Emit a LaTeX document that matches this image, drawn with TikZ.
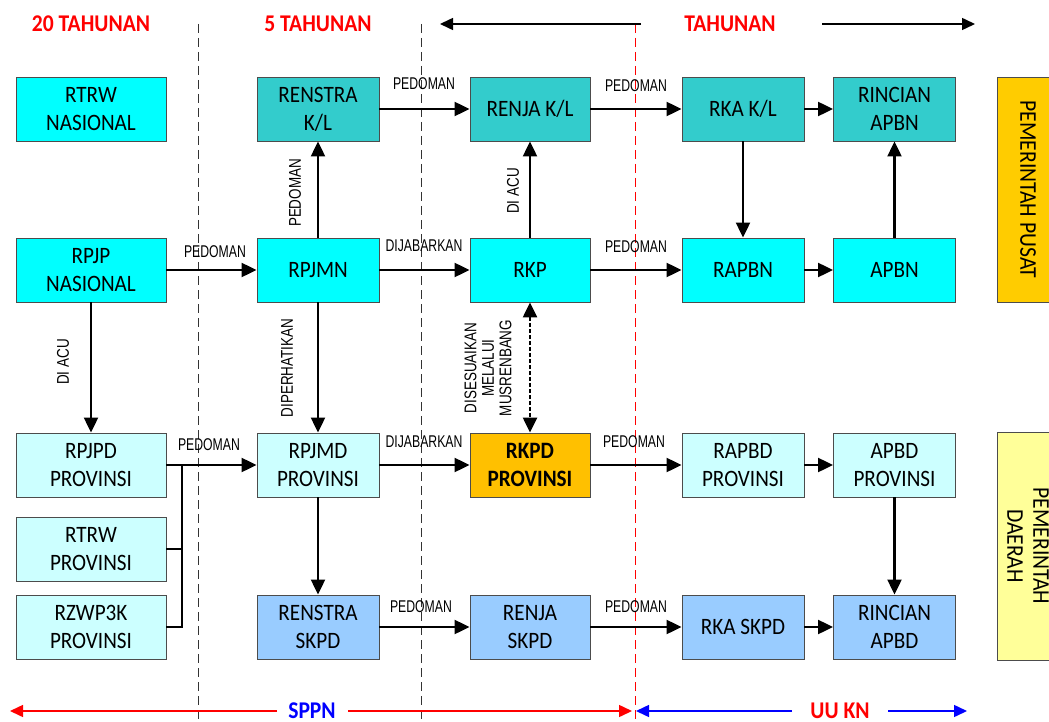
\documentclass[tikz,border=0pt]{standalone}
\usepackage{fontspec}
\setmainfont[FakeStretch=0.9]{Carlito}
\newfontfamily\labfont[FakeStretch=0.72]{Liberation Sans}
\newfontfamily\labfontr[FakeStretch=0.79]{Liberation Sans}
\usetikzlibrary{arrows.meta}
\definecolor{cyanA}{HTML}{00FFFF}
\definecolor{tealA}{HTML}{33CCCC}
\definecolor{lcyan}{HTML}{CCFFFF}
\definecolor{lblue}{HTML}{99CCFF}
\definecolor{orng}{HTML}{FFC000}
\definecolor{goldA}{HTML}{FFCC00}
\definecolor{lyel}{HTML}{FFFF99}
\definecolor{redA}{HTML}{FF0000}
\definecolor{blueA}{HTML}{0000FF}
\begin{document}
\begin{tikzpicture}[x=1pt,y=-1pt,
  box/.style={draw=black!70, line width=0.9pt, minimum height=64pt, inner sep=0pt,
    align=center, font=\fontsize{23.5}{28}\selectfont},
  wA/.style={minimum width=150pt},
  wB/.style={minimum width=122pt},
  wC/.style={minimum width=120pt},
  sidebox/.style={draw=black!70, line width=0.9pt, inner sep=0pt, align=center,
    font=\fontsize{24}{26}\selectfont, rotate=-90, minimum height=62pt},
  lbl/.style={font=\labfont\fontsize{17}{17.5}\selectfont, inner sep=0pt, align=center},
  rlbl/.style={font=\labfontr\fontsize{17}{17.5}\selectfont, inner sep=0pt, align=center, rotate=90},
  hdr/.style={font=\bfseries\fontsize{24}{26}\selectfont, inner sep=0pt},
  arr/.style={line width=2.2pt, -{Triangle[length=15pt,width=14pt]}},
  plain/.style={line width=2.2pt},
  dotarr/.style={line width=2.4pt, dash pattern=on 4pt off 2pt,
    {Triangle[length=15pt,width=14pt]}-{Triangle[length=15pt,width=14pt]}},
  thinarr/.style={line width=1.5pt, -{Triangle[length=13pt,width=12pt]}},
  vdash/.style={line width=1pt, dash pattern=on 9pt off 5pt}
]
\clip (0,0) rectangle (1049,722);
\useasboundingbox (0,0) rectangle (1049,722);

% dashed separators
\coordinate (d1a) at (198,24); \coordinate (d1b) at (198,722);
\coordinate (d2a) at (421,24); \coordinate (d2b) at (421,722);
\coordinate (d3a) at (635,24); \coordinate (d3b) at (635,722);
\draw[vdash, black!80] (d1a) -- (d1b);
\draw[vdash, black!80] (d2a) -- (d2b);
\draw[vdash, redA] (d3a) -- (d3b);

% headers
\node[hdr, text=redA] (h20) at (91,24) {20 TAHUNAN};
\node[hdr, text=redA] (h5) at (318,24) {5 TAHUNAN};
\node[hdr, text=redA] (h1) at (730,24) {TAHUNAN};
\coordinate (ta1) at (641,24); \coordinate (ta2) at (440,24);
\coordinate (tb1) at (822,24); \coordinate (tb2) at (975,24);
\draw[thinarr] (ta1) -- (ta2);
\draw[thinarr] (tb1) -- (tb2);

% row 1
\node[box, wA, fill=cyanA] (rtrwn) at (91,109) {RTRW\\NASIONAL};
\node[box, wB, fill=tealA] (renkl) at (318,109) {RENSTRA\\K/L};
\node[box, wC, fill=tealA] (renjakl) at (530,109) {RENJA K/L};
\node[box, wB, fill=tealA] (rkakl) at (743,109) {RKA K/L};
\node[box, wB, fill=tealA] (rincapbn) at (894.5,109) {RINCIAN\\APBN};
% row 2
\node[box, wA, fill=cyanA] (rpjpn) at (91,270) {RPJP\\NASIONAL};
\node[box, wB, fill=cyanA] (rpjmn) at (318,270) {RPJMN};
\node[box, wC, fill=cyanA] (rkp) at (530,270) {RKP};
\node[box, wB, fill=cyanA] (rapbn) at (743,270) {RAPBN};
\node[box, wB, fill=cyanA] (apbn) at (894.5,270) {APBN};
% row 3
\node[box, wA, fill=lcyan] (rpjpd) at (91,465) {RPJPD\\PROVINSI};
\node[box, wB, fill=lcyan] (rpjmd) at (318,465) {RPJMD\\PROVINSI};
\node[box, wC, fill=orng, font=\bfseries\fontsize{23.5}{28}\selectfont] (rkpd) at (530,465) {RKPD\\PROVINSI};
\node[box, wB, fill=lcyan] (rapbd) at (743,465) {RAPBD\\PROVINSI};
\node[box, wB, fill=lcyan] (apbd) at (894.5,465) {APBD\\PROVINSI};
% row 4
\node[box, wA, fill=lcyan] (rtrwp) at (91,549) {RTRW\\PROVINSI};
% row 5
\node[box, wA, fill=lcyan] (rzwp) at (91,627) {RZWP3K\\PROVINSI};
\node[box, wB, fill=lblue] (renskpd) at (318,627) {RENSTRA\\SKPD};
\node[box, wC, fill=lblue] (renjaskpd) at (530,627) {RENJA\\SKPD};
\node[box, wB, fill=lblue] (rkaskpd) at (743,627) {RKA SKPD};
\node[box, wB, fill=lblue] (rincapbd) at (894.5,627) {RINCIAN\\APBD};

% side boxes
\node[sidebox, fill=goldA, minimum width=225pt] (pusat) at (1028,189.5) {PEMERINTAH PUSAT};
\node[sidebox, fill=lyel, minimum width=228pt] (daerah) at (1028,546) {PEMERINTAH\\DAERAH};

% connectors row 1/2
\draw[arr] (renkl) -- (renjakl);
\draw[arr] (renjakl) -- (rkakl);
\draw[arr] (rkakl) -- (rincapbn);
\draw[arr] (rpjmn) -- (renkl);
\draw[arr] (rkp) -- (renjakl);
\draw[arr] (rkakl) -- (rapbn);
\draw[arr] (apbn) -- (rincapbn);
\draw[arr] (rpjpn) -- (rpjmn);
\draw[arr] (rpjmn) -- (rkp);
\draw[arr] (rkp) -- (rapbn);
\draw[arr] (rapbn) -- (apbn);
% verticals to province
\draw[arr] (rpjpn) -- (rpjpd);
\draw[arr] (rpjmn) -- (rpjmd);
\draw[dotarr] (rkp) -- (rkpd);
% row 3
\coordinate (jn) at (182,465);
\draw[plain] (rtrwp.east) -| (jn);
\draw[plain] (rzwp.east) -| (jn);
\draw[arr] (rpjpd) -- (rpjmd);
\draw[arr] (rpjmd) -- (rkpd);
\draw[arr] (rkpd) -- (rapbd);
\draw[arr] (rapbd) -- (apbd);
\draw[arr] (apbd) -- (rincapbd);
\draw[arr] (rpjmd) -- (renskpd);
% row 5
\draw[arr] (renskpd) -- (renjaskpd);
\draw[arr] (renjaskpd) -- (rkaskpd);
\draw[arr] (rkaskpd) -- (rincapbd);

% labels
\node[lbl] (l1) at (424,84) {PEDOMAN};
\node[lbl] (l2) at (636,86) {PEDOMAN};
\node[lbl] (l3) at (215,252) {PEDOMAN};
\node[lbl] (l4) at (424,246) {DIJABARKAN};
\node[lbl] (l5) at (636,247) {PEDOMAN};
\node[rlbl] (l6) at (295,193) {PEDOMAN};
\node[rlbl] (l7) at (513,191) {DI ACU};
\node[rlbl] (l8) at (63,362) {DI ACU};
\node[rlbl] (l9) at (287,368) {DIPERHATIKAN};
\node[rlbl] (l10) at (488,368) {DISESUAIKAN\\MELALUI\\MUSRENBANG};
\node[lbl] (l11) at (209,445) {PEDOMAN};
\node[lbl] (l12) at (424,442) {DIJABARKAN};
\node[lbl] (l13) at (634,442) {PEDOMAN};
\node[lbl] (l14) at (421,607) {PEDOMAN};
\node[lbl] (l15) at (636,607) {PEDOMAN};

% bottom
\node[hdr, text=blueA] (sppn) at (312,711) {SPPN};
\node[hdr, text=redA] (uukn) at (840,711) {UU KN};
\coordinate (s1) at (277,711); \coordinate (s1t) at (10,711);
\coordinate (s2) at (348,711); \coordinate (s2t) at (632,711);
\coordinate (u1) at (792,711); \coordinate (u1t) at (636,711);
\coordinate (u2) at (888,711); \coordinate (u2t) at (967,711);
\draw[thinarr, redA] (s1) -- (s1t);
\draw[thinarr, redA] (s2) -- (s2t);
\draw[thinarr, blueA] (u1) -- (u1t);
\draw[thinarr, blueA] (u2) -- (u2t);
\end{tikzpicture}
\end{document}
